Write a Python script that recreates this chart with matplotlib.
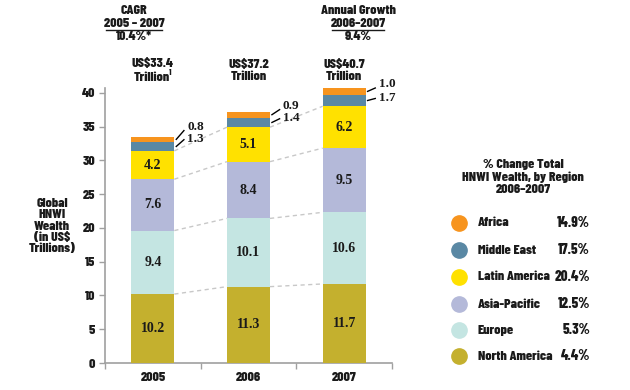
import matplotlib
matplotlib.use("Agg")
import matplotlib.pyplot as plt
import matplotlib.font_manager as fm
from matplotlib.lines import Line2D

years = ["2005", "2006", "2007"]
regions = ["North America", "Europe", "Asia-Pacific", "Latin America", "Middle East", "Africa"]
values = {
    "North America": [10.2, 11.3, 11.7],
    "Europe": [9.4, 10.1, 10.6],
    "Asia-Pacific": [7.6, 8.4, 9.5],
    "Latin America": [4.2, 5.1, 6.2],
    "Middle East": [1.3, 1.4, 1.7],
    "Africa": [0.8, 0.9, 1.0],
}
totals = ["US$33.4\nTrillion\u00b9", "US$37.2\nTrillion", "US$40.7\nTrillion"]
pct_change = {
    "Africa": "14.9%",
    "Middle East": "17.5%",
    "Latin America": "20.4%",
    "Asia-Pacific": "12.5%",
    "Europe": "5.3%",
    "North America": "4.4%",
}
colors = {
    "North America": "#C4B02E",
    "Europe": "#C4E5E2",
    "Asia-Pacific": "#B4B9D9",
    "Latin America": "#FFE100",
    "Middle East": "#5A88A4",
    "Africa": "#F7941E",
}
yticks = [0, 5, 10, 15, 20, 25, 30, 35, 40]

W, H = 630, 390
TXT = "#1a1a1a"


def fp(size):
    return fm.FontProperties(family=["Barlow Condensed", "DejaVu Sans"], weight=800, size=size)


def fps(size):
    return fm.FontProperties(family=["Liberation Serif", "DejaVu Serif"], weight="bold", size=size)


fig = plt.figure(figsize=(W / 100, H / 100), dpi=100)
ax = fig.add_axes([105 / W, 27 / H, 287 / W, 275 / H])


def fx(px):
    return px / W


def fy(py):
    return 1 - py / H


xs = list(range(len(years)))
bw = 0.45
bottoms = [0.0] * len(years)
tops = {}
for r in regions:
    vals = values[r]
    ax.bar(xs, vals, bw, bottom=bottoms, color=colors[r], linewidth=0, zorder=3)
    if r not in ("Middle East", "Africa"):
        for i, v in enumerate(vals):
            ax.text(xs[i], bottoms[i] + v / 2, f"{v:.1f}", ha="center", va="center",
                    fontproperties=fps(10), color=TXT, zorder=4)
    bottoms = [b + v for b, v in zip(bottoms, vals)]
    tops[r] = list(bottoms)

# dashed connectors
for r in ["North America", "Europe", "Asia-Pacific", "Latin America"]:
    for i in range(len(years) - 1):
        ax.plot([xs[i] + bw / 2, xs[i + 1] - bw / 2], [tops[r][i], tops[r][i + 1]],
                ls=(0, (3, 2.5)), color="#c8c8c8", lw=1.0, zorder=2, clip_on=False)

# small segment labels with leaders
af_off = [1.45, 0.85, 0.55]
me_off = [-0.35, -0.95, -1.45]
for i in xs:
    T = tops["Africa"][i]
    me_mid = tops["Latin America"][i] + values["Middle East"][i] / 2
    af_mid = tops["Middle East"][i] + values["Africa"][i] / 2
    xe = xs[i] + bw / 2 + 0.02
    xl = xs[i] + bw / 2 + 0.135
    ya = T + af_off[i]
    ym = T + me_off[i]
    ax.plot([xe, xl - 0.035], [af_mid, ya - 0.55], color="black", lw=1.0, clip_on=False, zorder=4)
    ax.plot([xe, xl - 0.035], [me_mid, ym - 0.1], color="black", lw=1.0, clip_on=False, zorder=4)
    ax.text(xl, ya, f"{values['Africa'][i]:.1f}", ha="left", va="center",
            fontproperties=fps(9.5), color=TXT)
    ax.text(xl, ym, f"{values['Middle East'][i]:.1f}", ha="left", va="center",
            fontproperties=fps(9.5), color=TXT)
    ax.text(xs[i], 43.3, totals[i], ha="center", va="center", fontproperties=fp(10),
            color=TXT, linespacing=1.2)

ax.set_xlim(-0.5, 2.5)
ax.set_ylim(0, 40.7)
for s in ["top", "right"]:
    ax.spines[s].set_visible(False)
for s in ["left", "bottom"]:
    ax.spines[s].set_color("#a0a0a0")
    ax.spines[s].set_linewidth(1.2)
ax.set_yticks(yticks)
ax.set_yticklabels([str(t) for t in yticks])
for lab in ax.get_yticklabels():
    lab.set_fontproperties(fp(10))
    lab.set_color(TXT)
ax.tick_params(axis="y", length=4, width=1, color="#a0a0a0", pad=3)
ax.set_xticks([-0.5, 0.5, 1.5, 2.5])
ax.set_xticklabels([])
ax.tick_params(axis="x", length=4, width=1, color="#a0a0a0")
for i, y in enumerate(years):
    ax.text(xs[i], -2.2, y, ha="center", va="center", fontproperties=fp(10), color=TXT)

# y label
fig.text(fx(52), fy(226), "Global\nHNWI\nWealth\n(in US$\nTrillions)", ha="center", va="center",
         fontproperties=fp(10), color=TXT, linespacing=1.05)


# header blocks
def header(cx, lines, half):
    t1, t2, t3 = lines
    fig.text(fx(cx), fy(10), t1, ha="center", va="center", fontproperties=fp(10), color=TXT)
    fig.text(fx(cx), fy(23.5), t2, ha="center", va="center", fontproperties=fp(10), color=TXT)
    fig.add_artist(Line2D([fx(cx - half), fx(cx + half)], [fy(30), fy(30)], color=TXT, lw=1.0))
    fig.text(fx(cx), fy(37), t3, ha="center", va="center", fontproperties=fp(10), color=TXT)


header(134, ["CAGR", "2005 \u2013 2007", "10.4%*"], 28)
header(358, ["Annual Growth", "2006\u20132007", "9.4%"], 26)

# legend
fig.text(fx(523), fy(177), "% Change Total\nHNWI Wealth, by Region\n2006\u20132007", ha="center", va="center",
         fontproperties=fp(10), color=TXT, linespacing=1.15)
leg_order = ["Africa", "Middle East", "Latin America", "Asia-Pacific", "Europe", "North America"]
leg_y = [223, 250, 277, 304, 330, 356]
for r, py in zip(leg_order, leg_y):
    fig.add_artist(Line2D([fx(459)], [fy(py)], marker="o", markersize=11, color=colors[r], lw=0))
    fig.text(fx(478), fy(py), r, ha="left", va="center", fontproperties=fp(10), color=TXT)
    fig.text(fx(590), fy(py), pct_change[r], ha="right", va="center", fontproperties=fp(10.5), color=TXT)

fig.savefig("out.png", dpi=100)
